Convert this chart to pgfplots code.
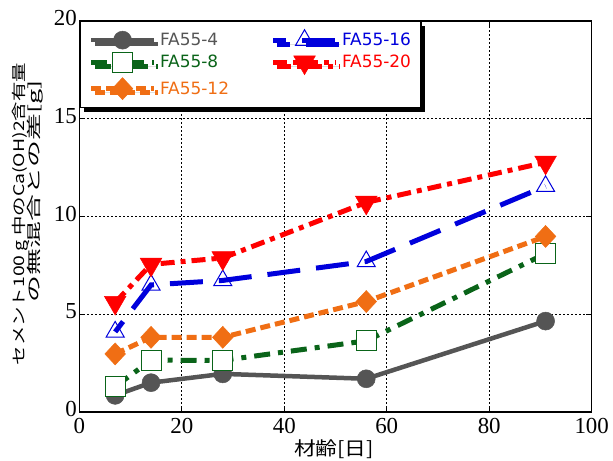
\documentclass[border=0pt]{standalone}
\usepackage{pgfplots}
\pgfplotsset{compat=1.18}
\usepackage{fontspec}
\setmainfont{Liberation Serif}
\newfontfamily\jp{Noto Sans CJK JP}
\newfontfamily\legfont{DejaVu Sans}
\usetikzlibrary{shadows}

\definecolor{cgray}{RGB}{85,85,85}
\definecolor{cgreen}{RGB}{10,100,25}
\definecolor{corange}{RGB}{240,110,20}
\definecolor{cblue}{RGB}{0,0,220}
\definecolor{cred}{RGB}{255,0,0}

\begin{document}
\begin{tikzpicture}
\begin{axis}[
  at={(79.3bp,49bp)}, anchor=south west,
  scale only axis, width=512.4bp, height=391bp,
  xmin=0, xmax=100, ymin=0, ymax=20,
  xtick={0,20,40,60,80,100}, ytick={0,5,10,15,20},
  axis line style={black, line width=1.2bp},
  tick style={black, line width=0.8bp},
  major tick length=6bp,
  tick align=inside,
  grid=major,
  major grid style={black, line width=0.8bp, dash pattern=on 1.5bp off 2.5bp},
  /pgf/number format/assume math mode=true,
  ticklabel style={font=\fontsize{23}{23}\selectfont},
  xticklabel style={yshift=-3bp},
  yticklabel style={xshift=1bp, yshift=3bp},
  legend columns=2,
  legend cell align=left,
  legend style={
    at={(0,1)}, anchor=north west,
    draw=black, line width=1.5bp, fill=white,
    drop shadow={shadow xshift=4bp, shadow yshift=-4bp, fill=black, opacity=1},
    font=\legfont\fontsize{17}{18}\selectfont,
    inner xsep=8.5bp, inner ysep=8bp,
    row sep=3bp,
    nodes={inner sep=1.5bp},
    /tikz/every odd column/.append style={column sep=2bp},
    /tikz/every even column/.append style={column sep=40bp},
  },
  legend image code/.code={
    \draw[mark repeat=2, mark phase=2, #1]
      plot coordinates {(0bp,0bp) (31.5bp,0bp) (63bp,0bp)};
  },
]
% FA55-4
\addplot[color=cgray, line width=4.5bp, mark=*, mark size=9bp,
  mark options={solid, fill=cgray, draw=cgray, line width=0.5bp}]
  coordinates {(7,0.85) (14,1.5) (28,1.95) (56,1.7) (91,4.65)};
\addlegendentry{\textcolor{cgray}{FA55-4}}
% FA55-16
\addplot[color=cblue, line width=5bp, dash pattern=on 33bp off 16bp, dash phase=20bp,
  mark=triangle, mark size=10.4bp,
  mark options={solid, fill=white, draw=cblue, line width=1bp}]
  coordinates {(7,4.1) (14,6.5) (28,6.73) (56,7.7) (91,11.55)};
\addlegendentry{\textcolor{cblue}{FA55-16}}
% FA55-8
\addplot[color=cgreen, line width=5bp, dash pattern=on 16bp off 8bp on 5bp off 8bp,
  mark=square*, mark size=10bp,
  mark options={solid, fill=white, draw=cgreen, line width=1bp}]
  coordinates {(7,1.3) (14,2.65) (28,2.64) (56,3.64) (91,8.1)};
\addlegendentry{\textcolor{cgreen}{FA55-8}}
% FA55-20
\addplot[color=cred, line width=5bp, dash pattern=on 14bp off 6bp on 5bp off 6bp,
  mark=triangle*, mark size=12.5bp,
  mark options={solid, rotate=180, fill=cred, draw=cred, line width=0.5bp}]
  coordinates {(7,5.6) (14,7.55) (28,7.88) (56,10.72) (91,12.77)};
\addlegendentry{\textcolor{cred}{FA55-20}}
% FA55-12
\addplot[color=corange, line width=5bp, dash pattern=on 10bp off 5bp,
  mark=diamond*, mark size=11bp,
  mark options={solid, xscale=1.25, fill=corange, draw=corange, line width=0.5bp}]
  coordinates {(7,2.97) (14,3.82) (28,3.82) (56,5.65) (91,8.98)};
\addlegendentry{\textcolor{corange}{FA55-12}}
\end{axis}

% axis titles
\node[rotate=90, inner sep=0pt] at (20bp,247bp)
  {\resizebox*{302bp}{16bp}{\jp セメント100 g 中のCa(OH)2含有量}};
\node[rotate=90, inner sep=0pt] at (35bp,270bp)
  {\resizebox*{222bp}{16bp}{\jp の無混合との差[g]}};
\node[inner sep=0pt] at (334bp,12bp)
  {\resizebox*{80bp}{19bp}{\jp 材齢[日]}};

\pgfresetboundingbox
\path (0,0) rectangle (613bp,461bp);
\end{tikzpicture}
\end{document}
